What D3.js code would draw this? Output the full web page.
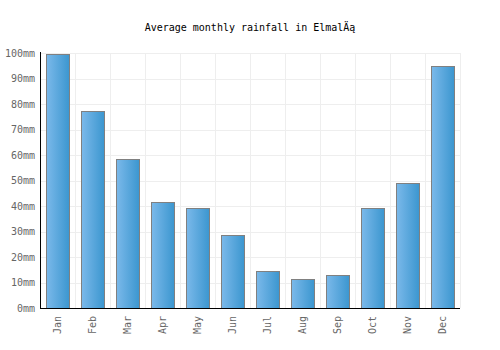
<!DOCTYPE html>
<html><head><meta charset="utf-8">
<script src="https://cdn.jsdelivr.net/npm/d3@7"></script>
<style>body{margin:0;background:#fff}svg{display:block}</style>
</head><body>
<svg id="c" width="500" height="350"></svg>
<script>
const months = ["Jan","Feb","Mar","Apr","May","Jun","Jul","Aug","Sep","Oct","Nov","Dec"];
const rainfall = [99.5, 77.3, 58.4, 41.6, 39.2, 28.6, 14.5, 11.4, 12.9, 39.2, 49.0, 94.9];
const yTicks = [0,10,20,30,40,50,60,70,80,90,100];
const title = "Average monthly rainfall in ElmalÄą";

const svg = d3.select("#c");
const m = {l:40, r:460, t:53, b:308};
const font = "'DejaVu Sans Mono', monospace";

const x = d3.scaleBand().domain(months).range([m.l, m.r]).paddingInner(1/3).paddingOuter(1/6);
const xb = d3.scaleBand().domain(months).range([m.l, m.r]);
const y = d3.scaleLinear().domain([0,100]).range([m.b, m.t]);

const defs = svg.append("defs");
const g = defs.append("linearGradient").attr("id","bg").attr("x1","0").attr("x2","1").attr("y1","0").attr("y2","0");
g.append("stop").attr("offset","0").attr("stop-color","#7bb9ea");
g.append("stop").attr("offset","1").attr("stop-color","#3b96cf");

// grid
svg.append("g").selectAll("line.h").data(yTicks).join("line")
  .attr("x1", m.l).attr("x2", m.r)
  .attr("y1", d => Math.round(y(d))+0.5).attr("y2", d => Math.round(y(d))+0.5)
  .attr("stroke", "#eeeeee").attr("stroke-width", 1);
svg.append("g").selectAll("line.v").data(months.slice(1).concat(["_end"])).join("line")
  .attr("x1", (d,i) => Math.round(m.l + xb.step()*(i+1))+0.5)
  .attr("x2", (d,i) => Math.round(m.l + xb.step()*(i+1))+0.5)
  .attr("y1", m.t).attr("y2", m.b)
  .attr("stroke", "#eeeeee").attr("stroke-width", 1);

// bars
svg.append("g").selectAll("rect").data(months).join("rect")
  .attr("x", d => Math.round(x(d))+0.5)
  .attr("width", Math.round(x.bandwidth()))
  .attr("y", (d,i) => Math.round(y(rainfall[i]))+0.5)
  .attr("height", (d,i) => Math.round(m.b) - Math.round(y(rainfall[i])))
  .attr("fill", "url(#bg)")
  .attr("stroke", "#808080").attr("stroke-width", 1);

// axes lines
svg.append("line").attr("x1", m.l+0.5).attr("x2", m.l+0.5).attr("y1", m.t-1).attr("y2", m.b+0.5)
  .attr("stroke", "#000").attr("stroke-width", 1);
svg.append("line").attr("x1", m.l).attr("x2", m.r).attr("y1", m.b+0.5).attr("y2", m.b+0.5)
  .attr("stroke", "#000").attr("stroke-width", 1);

// y labels
svg.append("g").selectAll("text").data(yTicks).join("text")
  .attr("x", 35).attr("y", d => y(d)).attr("dy", "0.35em")
  .attr("text-anchor", "end").attr("font-family", font).attr("font-size", 10)
  .attr("fill", "#666").text(d => d + "mm");

// x labels
svg.append("g").selectAll("text").data(months).join("text")
  .attr("transform", d => `translate(${x(d)+x.bandwidth()/2},316) rotate(-90)`)
  .attr("dy", "0.35em")
  .attr("text-anchor", "end").attr("font-family", font).attr("font-size", 10)
  .attr("fill", "#666").text(d => d);

// title
svg.append("text").attr("x", 250).attr("y", 31).attr("text-anchor", "middle")
  .attr("font-family", font).attr("font-size", 10).attr("fill", "#000").text(title);
</script>
</body></html>
